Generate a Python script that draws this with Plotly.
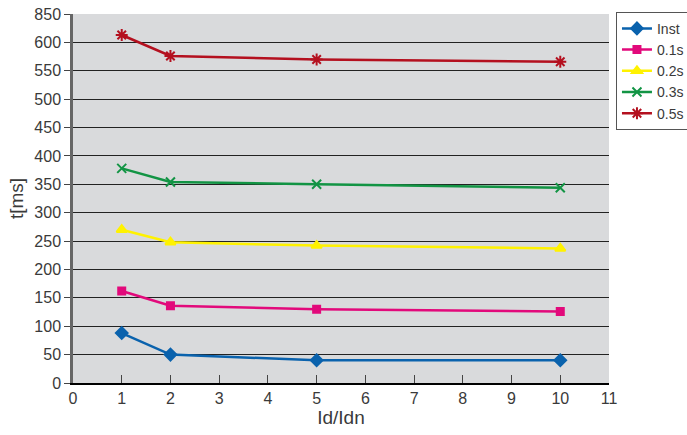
import plotly.graph_objects as go

x_vals = [1, 2, 5, 10]
inst = [88, 50, 40, 40]
s01 = [162, 136, 130, 126]
s02 = [270, 248, 242, 237]
s03 = [378, 354, 350, 344]
s05 = [613, 576, 570, 566]

y_ticks = [0, 50, 100, 150, 200, 250, 300, 350, 400, 450, 500, 550, 600, 650]
y_tick_labels = ["0", "50", "100", "150", "200", "250", "300", "350", "400",
                 "450", "500", "550", "600", "850"]
x_ticks = list(range(0, 12))

series = [
    ("Inst", inst, "#0a62ad", "diamond", 9),
    ("0.1s", s01, "#e2097b", "square", 7),
    ("0.2s", s02, "#fff200", "triangle-up", 9),
    ("0.3s", s03, "#129444", "x-thin-open", 9),
    ("0.5s", s05, "#b4101f", "asterisk-open", 10),
]

fig = go.Figure()
for name, ys, color, symbol, size in series:
    fig.add_trace(go.Scatter(
        x=x_vals, y=ys, name=name, mode="lines+markers",
        line=dict(color=color, width=2.5),
        marker=dict(symbol=symbol, size=size, color=color,
                    line=dict(color=color, width=2)),
    ))

fig.update_layout(
    width=687, height=435,
    margin=dict(l=73, r=78, t=14, b=52, autoexpand=False),
    paper_bgcolor="white",
    plot_bgcolor="#d9dadc",
    font=dict(family="Liberation Sans, Arial, sans-serif", size=16, color="#3a3a3a"),
    showlegend=True,
    legend=dict(x=1.013, y=1.006, xanchor="left", yanchor="top",
                bordercolor="#555555", borderwidth=1, bgcolor="white",
                font=dict(size=14), tracegroupgap=0, itemwidth=30),
)

fig.update_xaxes(
    range=[0, 11], tickvals=x_ticks, showgrid=False, zeroline=False,
    showline=True, linecolor="black", linewidth=1.5, automargin=False,
    ticks="inside", ticklen=8, tickcolor="#444444",
    title=dict(text="Id/Idn", standoff=4),
)
fig.update_yaxes(
    range=[0, 650], tickvals=y_ticks, ticktext=y_tick_labels,
    showgrid=True, gridcolor="#222222", gridwidth=1.2, zeroline=False,
    showline=True, linecolor="#666666", linewidth=2.5, automargin=False,
    ticks="outside", ticklen=6, tickcolor="#444444",
    title=dict(text="t[ms]", standoff=6),
)

fig.write_html("out.html", config={"displayModeBar": False},
               post_script="document.body.style.margin='0';document.body.style.overflow='hidden';")
